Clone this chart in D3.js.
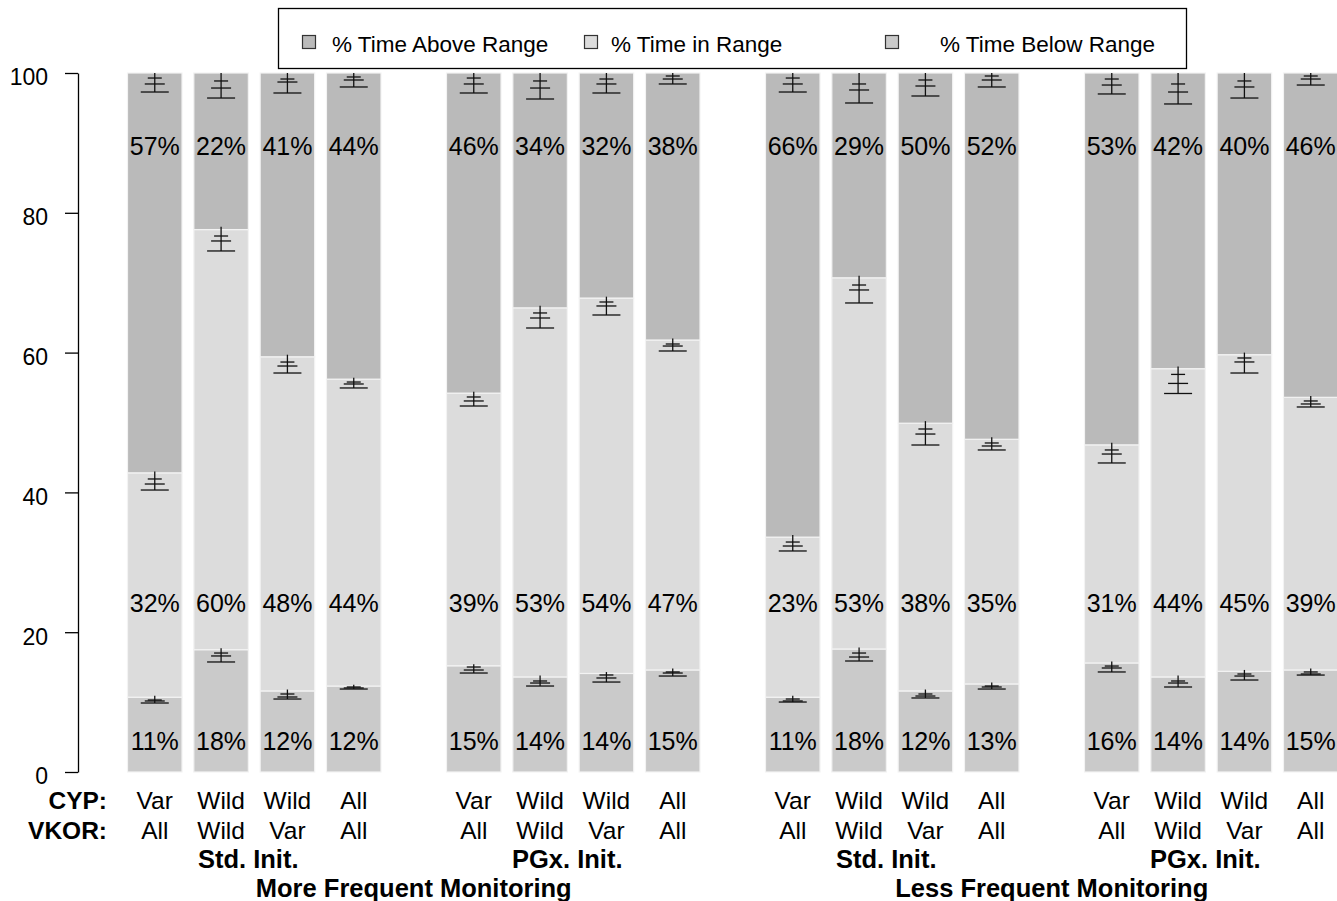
<!DOCTYPE html>
<html>
<head>
<meta charset="utf-8">
<script src="https://cdn.jsdelivr.net/npm/d3@7"></script>
<style>
  html, body { margin: 0; padding: 0; background: #fff; }
  svg { display: block; font-family: "Liberation Sans", Arial, sans-serif; }
</style>
</head>
<body>
<svg id="chart" width="1337" height="901"></svg>
<script>
// ---- Data -------------------------------------------------------------
const groups = ["MF-Std", "MF-PGx", "LF-Std", "LF-PGx"];
const initLabels = ["Std. Init.", "PGx. Init.", "Std. Init.", "PGx. Init."];
const monitoringLabels = ["More Frequent Monitoring", "Less Frequent Monitoring"];
const cypLabels = ["Var", "Wild", "Wild", "All"];
const vkorLabels = ["All", "Wild", "Var", "All"];
const seriesNames = ["% Time Above Range", "% Time in Range", "% Time Below Range"];
const yTicks = [0, 20, 40, 60, 80, 100];

// percent of time per arm (16 arms: 4 groups x 4 genotype subsets)
const belowRange = [10.7, 17.5, 11.6, 12.3, 15.2, 13.6, 14.1, 14.6, 10.7, 17.6, 11.6, 12.6, 15.6, 13.6, 14.4, 14.6];
const inRange    = [32.1, 60.1, 47.8, 43.9, 39.0, 52.8, 53.7, 47.2, 22.9, 53.1, 38.3, 35.0, 31.2, 44.1, 45.3, 39.0];
const aboveRange = [57.2, 22.4, 40.6, 43.8, 45.8, 33.6, 32.2, 38.2, 66.4, 29.3, 50.1, 52.4, 53.2, 42.3, 40.3, 46.4];

// uncertainty glyphs at each stack boundary: [line top, short tick, medium tick, wide tick]
const errBelow = [
  [10.9, 10.30, 10.16, 9.87], [17.7, 17.02, 16.60, 15.74], [11.8, 11.16, 10.73, 10.44], [12.5, 12.16, 12.02, 11.87],
  [15.4, 15.02, 14.59, 14.16], [13.8, 13.02, 12.73, 12.30], [14.3, 13.88, 13.45, 12.87], [14.8, 14.31, 14.16, 13.73],
  [10.9, 10.44, 10.16, 10.01], [17.8, 17.02, 16.45, 15.88], [11.8, 11.16, 10.87, 10.59], [12.8, 12.30, 12.16, 11.87],
  [15.8, 15.16, 14.88, 14.31], [13.8, 13.02, 12.73, 12.16], [14.6, 14.02, 13.73, 13.16], [14.8, 14.31, 14.02, 13.87]
];
const errInRange = [
  [43.0, 41.92, 41.20, 40.34], [78.0, 76.68, 75.97, 74.54], [59.7, 58.65, 58.08, 57.08], [56.4, 55.79, 55.51, 54.94],
  [54.4, 53.65, 53.08, 52.36], [66.7, 65.67, 64.95, 63.52], [68.0, 67.24, 66.67, 65.38], [62.0, 61.23, 60.94, 60.23],
  [33.9, 32.90, 32.33, 31.62], [71.0, 69.67, 68.96, 67.10], [50.2, 49.07, 48.35, 46.78], [47.9, 47.07, 46.64, 46.07],
  [47.1, 46.07, 45.49, 44.21], [58.0, 56.88, 55.59, 54.15], [60.0, 59.23, 58.66, 57.08], [53.8, 53.08, 52.65, 52.22]
];
const errAbove = [
  [100, 99.28, 98.43, 97.28], [100, 98.86, 97.85, 96.42], [100, 99.14, 98.71, 97.14], [100, 99.43, 99.00, 98.00],
  [100, 99.28, 98.43, 97.14], [100, 98.86, 97.85, 96.28], [100, 99.14, 98.43, 97.14], [100, 99.57, 99.14, 98.43],
  [100, 99.28, 98.43, 97.28], [100, 98.43, 97.57, 95.71], [100, 99.00, 98.14, 96.71], [100, 99.57, 99.00, 98.00],
  [100, 99.14, 98.28, 97.00], [100, 98.43, 97.28, 95.57], [100, 98.86, 98.00, 96.42], [100, 99.57, 99.14, 98.28]
];

// ---- Styles ------------------------------------------------------------
const colors = { above: "#bababa", inRange: "#dcdcdc", below: "#cacaca" };
const svg = d3.select("#chart");

// ---- Scales ------------------------------------------------------------
const y = d3.scaleLinear().domain([0, 100]).range([772, 73]);
const xGroup = d3.scaleBand().domain(groups).range([127.5, 1338]).paddingInner(0.2053);
const xBar = d3.scaleBand().domain(d3.range(4)).range([0, xGroup.bandwidth()]).paddingInner(0.178);

const arms = d3.range(16).map(i => {
  const g = groups[Math.floor(i / 4)];
  const b = i % 4;
  return {
    i, g, b,
    x: xGroup(g) + xBar(b),
    cx: xGroup(g) + xBar(b) + xBar.bandwidth() / 2,
    below: belowRange[i], inr: inRange[i], above: aboveRange[i]
  };
});

// ---- Stacked bars ------------------------------------------------------
const stack = d3.stack().keys(["below", "inr", "above"]);
const stacked = stack(arms);
const keyColor = { below: colors.below, inr: colors.inRange, above: colors.above };

svg.append("g").selectAll("g").data(stacked).join("g")
  .attr("fill", d => keyColor[d.key])
  .selectAll("rect").data(d => d).join("rect")
  .attr("x", d => d.data.x)
  .attr("width", xBar.bandwidth())
  .attr("y", d => y(Math.min(100, d[1])))
  .attr("height", d => y(d[0]) - y(Math.min(100, d[1])))
  .attr("stroke", "#f3f3f3")
  .attr("stroke-width", 1.2);

// ---- Uncertainty glyphs ------------------------------------------------
const glyphs = [];
arms.forEach(a => {
  [errBelow, errInRange, errAbove].forEach(arr => glyphs.push({ cx: a.cx, v: arr[a.i] }));
});
const gErr = svg.append("g").attr("stroke", "#111").attr("stroke-width", 1.3).attr("fill", "none");
glyphs.forEach(gl => {
  const [top, s, m, w] = gl.v;
  gErr.append("line").attr("x1", gl.cx).attr("x2", gl.cx).attr("y1", y(top)).attr("y2", y(w));
  gErr.append("line").attr("x1", gl.cx - 7).attr("x2", gl.cx + 7).attr("y1", y(s)).attr("y2", y(s));
  gErr.append("line").attr("x1", gl.cx - 10).attr("x2", gl.cx + 10).attr("y1", y(m)).attr("y2", y(m));
  gErr.append("line").attr("x1", gl.cx - 14).attr("x2", gl.cx + 14).attr("y1", y(w)).attr("y2", y(w));
});

// ---- Percentage labels -------------------------------------------------
const pct = v => Math.round(v) + "%";
const labelRows = [
  { key: "above", at: 88.2 },
  { key: "inr", at: 22.9 },
  { key: "below", at: 3.1 }
];
const gLab = svg.append("g").attr("font-size", 25).attr("text-anchor", "middle").attr("fill", "#000");
labelRows.forEach(row => {
  gLab.selectAll(null).data(arms).join("text")
    .attr("x", d => d.cx)
    .attr("y", y(row.at))
    .text(d => pct(d[row.key]));
});

// ---- Y axis ------------------------------------------------------------
const axis = d3.axisLeft(y).tickValues(yTicks).tickSize(13).tickSizeOuter(0).tickPadding(17);
const gAxis = svg.append("g").attr("transform", "translate(78,0)").call(axis);
gAxis.select(".domain").attr("stroke", "#000").attr("stroke-width", 1.3);
gAxis.selectAll(".tick line").attr("stroke", "#000").attr("stroke-width", 1.3);
gAxis.selectAll(".tick text")
  .attr("font-size", 23)
  .attr("font-family", "Liberation Sans, Arial, sans-serif")
  .attr("fill", "#000")
  .attr("dy", "0.52em");

// ---- Category labels under the bars -----------------------------------
const gCat = svg.append("g").attr("font-size", 24.5).attr("fill", "#000");
gCat.append("text").attr("x", 107).attr("y", 809).attr("text-anchor", "end").attr("font-weight", "bold").text("CYP:");
gCat.append("text").attr("x", 107).attr("y", 839).attr("text-anchor", "end").attr("font-weight", "bold").text("VKOR:");
gCat.selectAll(".cyp").data(arms).join("text").attr("class", "cyp")
  .attr("x", d => d.cx).attr("y", 809).attr("text-anchor", "middle").text(d => cypLabels[d.b]);
gCat.selectAll(".vkor").data(arms).join("text").attr("class", "vkor")
  .attr("x", d => d.cx).attr("y", 839).attr("text-anchor", "middle").text(d => vkorLabels[d.b]);

// initiation strategy, centred between the middle two bars of each group
gCat.selectAll(".init").data(groups).join("text").attr("class", "init")
  .attr("x", g => xGroup(g) + xGroup.bandwidth() / 2 - 6)
  .attr("y", 868).attr("text-anchor", "middle").attr("font-weight", "bold").attr("font-size", 25.5)
  .text((g, i) => initLabels[i]);

// monitoring frequency, centred over each pair of groups
gCat.selectAll(".mon").data(monitoringLabels).join("text").attr("class", "mon")
  .attr("x", (d, i) => (xGroup(groups[2 * i]) + xGroup(groups[2 * i + 1]) + xGroup.bandwidth()) / 2)
  .attr("y", 897).attr("text-anchor", "middle").attr("font-weight", "bold").attr("font-size", 25.5)
  .text(d => d);

// ---- Legend ------------------------------------------------------------
const gLeg = svg.append("g");
gLeg.append("rect").attr("x", 278.5).attr("y", 8.5).attr("width", 908).attr("height", 60)
  .attr("fill", "#fff").attr("stroke", "#000").attr("stroke-width", 1.3);
const legendItems = [
  { name: seriesNames[0], color: colors.above, sx: 302, tx: 332 },
  { name: seriesNames[1], color: colors.inRange, sx: 584, tx: 611 },
  { name: seriesNames[2], color: colors.below, sx: 885, tx: 940 }
];
legendItems.forEach(it => {
  gLeg.append("rect").attr("x", it.sx + 0.5).attr("y", 35.5).attr("width", 13).attr("height", 13)
    .attr("fill", it.color).attr("stroke", "#333").attr("stroke-width", 1.2);
  gLeg.append("text").attr("x", it.tx).attr("y", 51.5).attr("font-size", 22.5).attr("fill", "#000").text(it.name);
});
</script>
</body>
</html>
